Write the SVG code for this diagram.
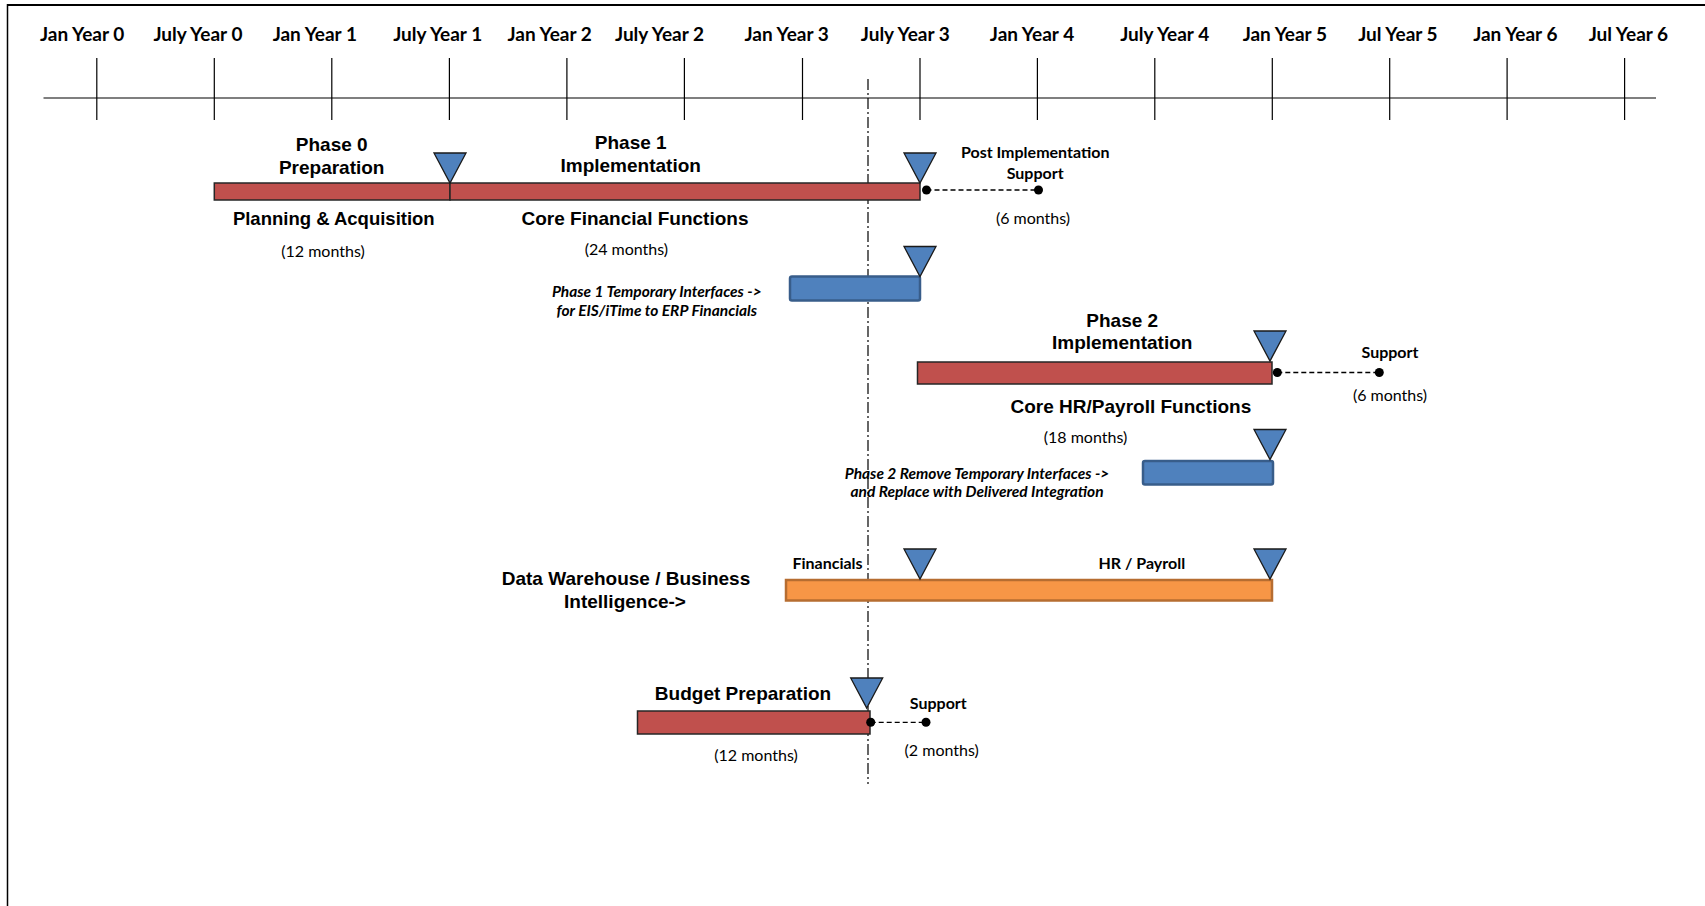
<svg xmlns="http://www.w3.org/2000/svg" width="1705" height="906" viewBox="0 0 1705 906">
<style>
.ax{font-family:Lato,"Liberation Sans",sans-serif;font-weight:bold;font-size:19px;fill:#000;text-anchor:middle}
.ar{font-family:"Liberation Sans",Arial,sans-serif;font-weight:bold;font-size:19px;fill:#000;text-anchor:middle}
.cb{font-family:Lato,"Liberation Sans",sans-serif;font-weight:bold;font-size:16px;fill:#000;text-anchor:middle}
.cr{font-family:Lato,"Liberation Sans",sans-serif;font-size:16px;fill:#000;text-anchor:middle}
.ci{font-family:Lato,"Liberation Sans",sans-serif;font-weight:bold;font-style:italic;font-size:15.5px;fill:#000;text-anchor:middle}
.tick{stroke:#000;stroke-width:1.2}
.red{fill:#C0504D;stroke:#262626;stroke-width:1.5}
.blue{fill:#4F81BD;stroke:#385D8A;stroke-width:2.5}
.orange{fill:#F79646;stroke:#B66D31;stroke-width:2.5}
.tri{fill:#4F81BD;stroke:#1a1a1a;stroke-width:1.3}
.dash{stroke:#000;stroke-width:1.3;stroke-dasharray:5 3;fill:none}
.dot{fill:#000}
</style>
<defs>
<path id="tri" d="M-16,-30 L16,-30 L0,0 Z" class="tri"/>
</defs>
<rect x="0" y="0" width="1705" height="906" fill="#fff"/>
<g id="frame" stroke="#000" fill="none">
<line x1="7.5" y1="5" x2="1705" y2="5" stroke-width="2"/>
<line x1="7.5" y1="4" x2="7.5" y2="906" stroke-width="1.5"/>
</g>
<g id="timeline">
<line x1="43.5" y1="98" x2="1656" y2="98" class="tick"/>
<line x1="96.8" y1="58" x2="96.8" y2="120" class="tick"/>
<line x1="214.3" y1="58" x2="214.3" y2="120" class="tick"/>
<line x1="331.8" y1="58" x2="331.8" y2="120" class="tick"/>
<line x1="449.4" y1="58" x2="449.4" y2="120" class="tick"/>
<line x1="566.9" y1="58" x2="566.9" y2="120" class="tick"/>
<line x1="684.4" y1="58" x2="684.4" y2="120" class="tick"/>
<line x1="802.5" y1="58" x2="802.5" y2="120" class="tick"/>
<line x1="920" y1="58" x2="920" y2="120" class="tick"/>
<line x1="1037.4" y1="58" x2="1037.4" y2="120" class="tick"/>
<line x1="1154.8" y1="58" x2="1154.8" y2="120" class="tick"/>
<line x1="1272.3" y1="58" x2="1272.3" y2="120" class="tick"/>
<line x1="1389.7" y1="58" x2="1389.7" y2="120" class="tick"/>
<line x1="1507.1" y1="58" x2="1507.1" y2="120" class="tick"/>
<line x1="1624.6" y1="58" x2="1624.6" y2="120" class="tick"/>
<text class="ax" x="82.1" y="40.5">Jan Year 0</text>
<text class="ax" x="197.9" y="40.5">July Year 0</text>
<text class="ax" x="314.8" y="40.5">Jan Year 1</text>
<text class="ax" x="437.7" y="40.5">July Year 1</text>
<text class="ax" x="549.7" y="40.5">Jan Year 2</text>
<text class="ax" x="659.5" y="40.5">July Year 2</text>
<text class="ax" x="786.7" y="40.5">Jan Year 3</text>
<text class="ax" x="905.3" y="40.5">July Year 3</text>
<text class="ax" x="1032" y="40.5">Jan Year 4</text>
<text class="ax" x="1164.7" y="40.5">July Year 4</text>
<text class="ax" x="1284.8" y="40.5">Jan Year 5</text>
<text class="ax" x="1397.9" y="40.5">Jul Year 5</text>
<text class="ax" x="1515.3" y="40.5">Jan Year 6</text>
<text class="ax" x="1628.4" y="40.5">Jul Year 6</text>
</g>
<g id="today-line">
<line x1="868" y1="79" x2="868" y2="784" stroke="#000" stroke-width="1.2" stroke-dasharray="11 3 2 3"/>
</g>
<g id="phase0">
<rect x="214.3" y="183" width="235.7" height="17" class="red"/>
<text class="ar" x="331.7" y="151.4">Phase 0</text>
<text class="ar" x="331.7" y="174.3">Preparation</text>
<text class="ar" x="333.8" y="225.4" style="font-size:18.5px">Planning &amp; Acquisition</text>
<text class="cr" x="323" y="257">(12 months)</text>
</g>
<g id="phase1">
<rect x="450" y="183" width="470" height="17" class="red"/>
<text class="ar" x="630.7" y="149.2">Phase 1</text>
<text class="ar" x="630.7" y="172.1">Implementation</text>
<text class="ar" x="635" y="225.4">Core Financial Functions</text>
<text class="cr" x="626.4" y="254.8">(24 months)</text>
</g>
<g id="milestone-phase0-end"><use href="#tri" x="450" y="183"/></g>
<g id="milestone-phase1-end"><use href="#tri" x="920" y="183"/></g>
<g id="post-impl-support">
<text class="cb" x="1035.2" y="158.3">Post Implementation</text>
<text class="cb" x="1035.2" y="178.6">Support</text>
<text class="cr" x="1033" y="224.4">(6 months)</text>
</g>
<g id="phase1-interfaces">
<rect x="790" y="276.5" width="130" height="24" rx="2" class="blue"/>
<use href="#tri" x="920" y="276.5"/>
<text class="ci" x="656.8" y="297">Phase 1 Temporary Interfaces -&gt;</text>
<text class="ci" x="656.8" y="315.5">for EIS/iTime to ERP Financials</text>
</g>
<g id="phase2">
<rect x="917.5" y="362" width="354.5" height="22" class="red"/>
<use href="#tri" x="1270" y="361"/>
<text class="ar" x="1122.2" y="326.5">Phase 2</text>
<text class="ar" x="1122.2" y="349.3">Implementation</text>
<text class="ar" x="1130.9" y="412.6">Core HR/Payroll Functions</text>
<text class="cr" x="1085.5" y="442.5">(18 months)</text>
</g>
<g id="phase2-support">
<text class="cb" x="1390" y="358">Support</text>
<text class="cr" x="1390" y="400.8">(6 months)</text>
</g>
<g id="phase2-interfaces">
<rect x="1143" y="461" width="130" height="23.5" rx="2" class="blue"/>
<use href="#tri" x="1270" y="459.5"/>
<text class="ci" x="977" y="478.5">Phase 2 Remove Temporary Interfaces -&gt;</text>
<text class="ci" x="977" y="497">and Replace with Delivered Integration</text>
</g>
<g id="data-warehouse">
<rect x="786" y="580" width="486" height="20.5" class="orange"/>
<use href="#tri" x="920" y="579"/>
<use href="#tri" x="1270" y="579"/>
<text class="cb" x="827.5" y="569">Financials</text>
<text class="cb" x="1141.8" y="569">HR / Payroll</text>
<text class="ar" x="626" y="585.3">Data Warehouse / Business</text>
<text class="ar" x="625" y="608">Intelligence-&gt;</text>
</g>
<g id="budget-prep">
<rect x="637.5" y="711" width="232.5" height="23" class="red"/>
<use href="#tri" x="866.7" y="708"/>
<text class="ar" x="743" y="699.8">Budget Preparation</text>
<text class="cr" x="756" y="760.8">(12 months)</text>
</g>
<g id="budget-support">
<text class="cb" x="938.3" y="709">Support</text>
<text class="cr" x="941.7" y="755.8">(2 months)</text>
</g>
<g id="connectors">
<line x1="926.5" y1="190" x2="1038.5" y2="190" class="dash"/>
<circle cx="926.5" cy="190" r="4.5" class="dot"/>
<circle cx="1038.5" cy="190" r="4.5" class="dot"/>
<line x1="1277.3" y1="372.5" x2="1379.3" y2="372.5" class="dash"/>
<circle cx="1277.3" cy="372.5" r="4.5" class="dot"/>
<circle cx="1379.3" cy="372.5" r="4.5" class="dot"/>
<line x1="870.7" y1="722.3" x2="926" y2="722.3" class="dash"/>
<circle cx="870.7" cy="722.3" r="4.5" class="dot"/>
<circle cx="926" cy="722.3" r="4.5" class="dot"/>
</g>
</svg>
